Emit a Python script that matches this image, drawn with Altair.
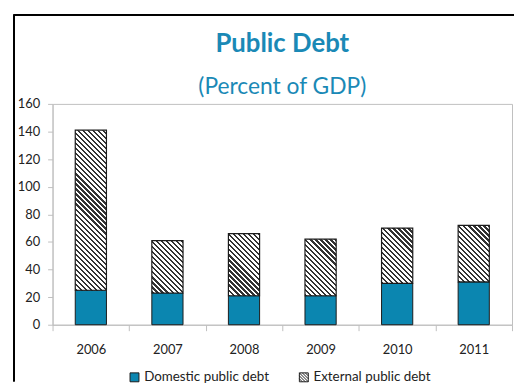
import altair as alt
import pandas as pd
import math

years = ["2006", "2007", "2008", "2009", "2010", "2011"]
domestic = [25, 23, 21, 21, 30, 31]
external = [116, 38, 45, 41, 40, 41]
series_names = ["Domestic public debt", "External public debt"]
title_text = ["Public Debt"]
subtitle_text = ["(Percent of GDP)"]

TEAL = "#0b86b0"
TITLE_C = "#1a89b6"
FONT = "Lato"
W, H = 464, 223
BAR_W = 31.5

df = pd.DataFrame({"year": years, "dom": domestic, "ext": external})
df["total"] = df["dom"] + df["ext"]


def hatch(ext_val):
    w = BAR_W
    h = ext_val * H / 160.0
    d = w * w + h * h
    span = w + h
    period = 3.6 * math.sqrt(2)
    n = int(span / period) + 1
    stops = []
    for i in range(n):
        a = i * period / span
        b = (i + 0.45) * period / span
        c = (i + 1) * period / span
        if a > 1:
            break
        stops.append({"offset": min(a, 1), "color": "#333333"})
        stops.append({"offset": min(b, 1), "color": "#333333"})
        stops.append({"offset": min(b, 1), "color": "#ffffff"})
        stops.append({"offset": min(c, 1), "color": "#ffffff"})
    return {
        "gradient": "linear",
        "x1": 0, "y1": 1,
        "x2": span * w / d, "y2": 1 - span * h / d,
        "stops": stops,
    }


base = alt.Chart(df)

xenc = alt.X(
    "year:N", title=None,
    scale=alt.Scale(paddingInner=0, paddingOuter=0),
    axis=alt.Axis(labelAngle=0, tickBand="extent", tickSize=6, labelPadding=13,
                  labelFontSize=13, labelFont=FONT, labelColor="#222",
                  domainColor="#bfbfbf", tickColor="#bfbfbf"),
)
yaxis = alt.Axis(values=list(range(0, 161, 20)), grid=False, tickSize=5, labelOverlap=False,
                 labelPadding=8, labelFontSize=13, labelFont=FONT,
                 labelColor="#222", domainColor="#bfbfbf", tickColor="#bfbfbf")

dom_layer = base.mark_bar(width=BAR_W, fill=TEAL, stroke="#1b1b1b", strokeWidth=1).encode(
    x=xenc,
    y=alt.Y("dom:Q", title=None, scale=alt.Scale(domain=[0, 160]), axis=yaxis),
)

ext_layers = []
for yv, ev in zip(years, external):
    ext_layers.append(
        base.transform_filter(alt.datum.year == yv)
        .mark_bar(width=BAR_W, fill=hatch(ev), stroke="#1b1b1b", strokeWidth=1.2)
        .encode(x=xenc, y=alt.Y("dom:Q", title=None, axis=yaxis), y2="total:Q")
    )

SQUARE = "M-1,-1H1V1H-1Z"
HATCHED = ("M-1,-1H1V1H-1Z M-1,-1L1,1 M-0.33,-1L1,0.33 M-1,-0.33L0.33,1 "
           "M0.33,-1L1,-0.33 M-1,0.33L-0.33,1")

leg = alt.Legend(title=None, orient="none", direction="horizontal",
                 legendX=76, legendY=269, symbolSize=81,
                 labelFontSize=13.5, labelFont=FONT, labelColor="#222",
                 columnPadding=28, labelOffset=3,
                 symbolStrokeColor="#1b1b1b", symbolStrokeWidth=1)

legend_layer = base.transform_filter("false").transform_calculate(
    series="'x'"
).mark_point(filled=True, opacity=1, strokeWidth=1).encode(
    fill=alt.Fill("series:N", scale=alt.Scale(domain=series_names, range=[TEAL, "#ffffff"]), legend=leg),
    shape=alt.Shape("series:N", scale=alt.Scale(domain=series_names, range=[SQUARE, HATCHED]), legend=leg),
    stroke=alt.Stroke("series:N", scale=alt.Scale(domain=series_names, range=["#1b1b1b", "#1b1b1b"]), legend=leg),
)

title_layer = alt.Chart(pd.DataFrame({"t": title_text})).mark_text(
    font=FONT, fontSize=26, fontWeight="bold", color=TITLE_C, align="center", baseline="alphabetic"
).encode(text="t:N", x=alt.value(W / 2), y=alt.value(-52))

subtitle_layer = alt.Chart(pd.DataFrame({"t": subtitle_text})).mark_text(
    font=FONT, fontSize=23, color=TITLE_C, align="center", baseline="alphabetic"
).encode(text="t:N", x=alt.value(W / 2), y=alt.value(-10))

frame_left = alt.Chart(df).mark_rule(color="black", strokeWidth=1.5).encode(
    x=alt.value(-39), y=alt.value(-90), y2=alt.value(280))
frame_top = alt.Chart(df).mark_rule(color="black", strokeWidth=1.5).encode(
    x=alt.value(-39), x2=alt.value(470), y=alt.value(-90))

chart = alt.layer(dom_layer, *ext_layers, legend_layer, title_layer, subtitle_layer,
                  frame_left, frame_top).properties(
    width=W, height=H,
    autosize=alt.AutoSizeParams(type="none"),
    padding={"left": 45, "top": 95, "right": 2, "bottom": 57},
).configure_view(stroke="#bfbfbf")

chart.save("out.html", embed_options={"renderer": "svg", "actions": False})
